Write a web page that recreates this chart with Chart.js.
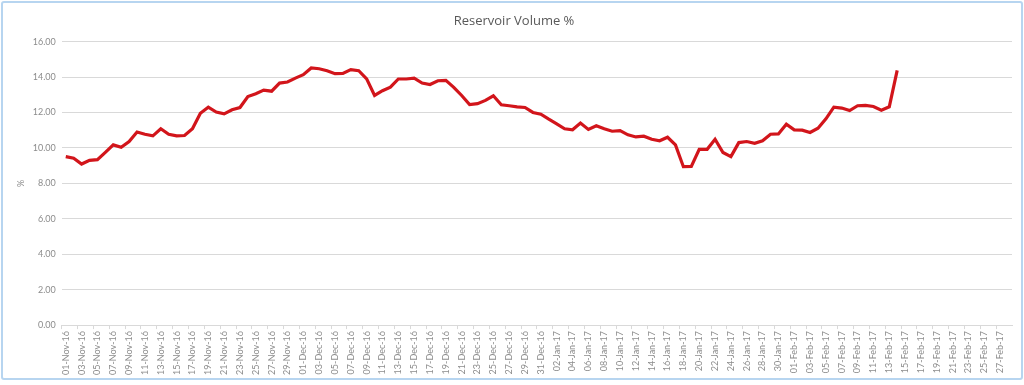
<!DOCTYPE html>
<html>
<head>
<meta charset="utf-8">
<script src="https://cdn.jsdelivr.net/npm/chart.js@4"></script>
<style>
  html, body { margin: 0; padding: 0; background: #fff; }
  #frame { position: absolute; left: 1px; top: 1px; width: 1018px; height: 375px; border: 2px solid #b7d5f0; border-radius: 3px; }
  #wrap { position: absolute; left: 0; top: 0; width: 1024px; height: 385px; }
</style>
</head>
<body>
<div id="frame"></div>
<div id="wrap"><canvas id="chart"></canvas></div>
<script>
// months on the category axis: name and number of days
const months = [['Nov-16', 30], ['Dec-16', 31], ['Jan-17', 31], ['Feb-17', 28]]

// reservoir volume % from 01-Nov-16 to 14-Feb-17
const volNov = [9.51, 9.42, 9.09, 9.3, 9.34, 9.75, 10.17, 10.04, 10.36, 10.9,
    10.77, 10.68, 11.08, 10.77, 10.68, 10.7, 11.08, 11.96, 12.3, 12.02,
    11.92, 12.15, 12.28, 12.9, 13.06, 13.26, 13.2, 13.66, 13.72, 13.94]
const volDec = [14.13, 14.51, 14.47, 14.36, 14.19, 14.2, 14.42, 14.36, 13.9, 12.96,
    13.23, 13.43, 13.89, 13.89, 13.94, 13.66, 13.58, 13.79, 13.81, 13.42,
    12.96, 12.45, 12.5, 12.68, 12.94, 12.43, 12.38, 12.32, 12.28, 12.0, 11.9]
const volJan = [11.62, 11.36, 11.08, 11.02, 11.4, 11.04, 11.25, 11.08, 10.94, 10.98,
    10.74, 10.62, 10.66, 10.49, 10.4, 10.6, 10.17, 8.94, 8.95, 9.92,
    9.92, 10.49, 9.74, 9.51, 10.3, 10.36, 10.26, 10.4, 10.77, 10.79, 11.34]
const volFeb = [11.02, 11.0, 10.87, 11.11, 11.64, 12.3, 12.25, 12.11, 12.38, 12.4,
    12.34, 12.13, 12.32, 14.38]

const yTicks = [0, 2, 4, 6, 8, 10, 12, 14, 16]

const labels = []
months.forEach(m => {
    for (let d = 1; d <= m[1]; d++) labels.push((d < 10 ? '0' + d : '' + d) + '-' + m[0])
})
const volume = [].concat(volNov, volDec, volJan, volFeb)

const grey = '#8c8c8c'
const gridGrey = '#d9d9d9'
const font = 'Lato'

const chartConfig = {
    type: 'line',
    data: {
        labels: labels,
        datasets: [{
            data: volume,
            borderColor: '#d2151b',
            borderWidth: 3.2,
            pointRadius: 0,
            tension: 0,
            fill: false
        }]
    },
    options: {
        responsive: true,
        maintainAspectRatio: false,
        animation: false,
        layout: { padding: { left: 16, right: 12, top: 0, bottom: 8 } },
        plugins: {
            legend: { display: false },
            tooltip: { enabled: false },
            title: {
                display: true,
                text: 'Reservoir Volume %',
                color: '#595959',
                font: { family: 'Open Sans', size: 13, weight: 'normal' },
                padding: { top: 13, bottom: 13 }
            }
        },
        scales: {
            x: {
                offset: true,
                grid: {
                    offset: true,
                    drawOnChartArea: false,
                    tickLength: 4,
                    color: ctx => ctx.index % 2 === 0 ? gridGrey : 'rgba(0,0,0,0)'
                },
                border: { display: true, color: gridGrey },
                ticks: {
                    autoSkip: false,
                    maxRotation: 90,
                    minRotation: 90,
                    padding: 2,
                    color: grey,
                    font: { family: font, size: 9 },
                    callback: (v, i) => i % 2 === 0 ? labels[i] : ''
                }
            },
            y: {
                min: 0,
                max: 16,
                afterBuildTicks: axis => { axis.ticks = yTicks.map(v => ({ value: v })) },
                grid: { color: gridGrey, drawTicks: false },
                border: { display: false },
                title: {
                    display: true,
                    text: '%',
                    color: grey,
                    font: { family: font, size: 9 },
                    padding: 0
                },
                ticks: {
                    color: grey,
                    padding: 6,
                    font: { family: font, size: 9 },
                    callback: v => v.toFixed(2)
                }
            }
        }
    }
}

const chart = new Chart(document.getElementById('chart'), chartConfig)
</script>
</body>
</html>
